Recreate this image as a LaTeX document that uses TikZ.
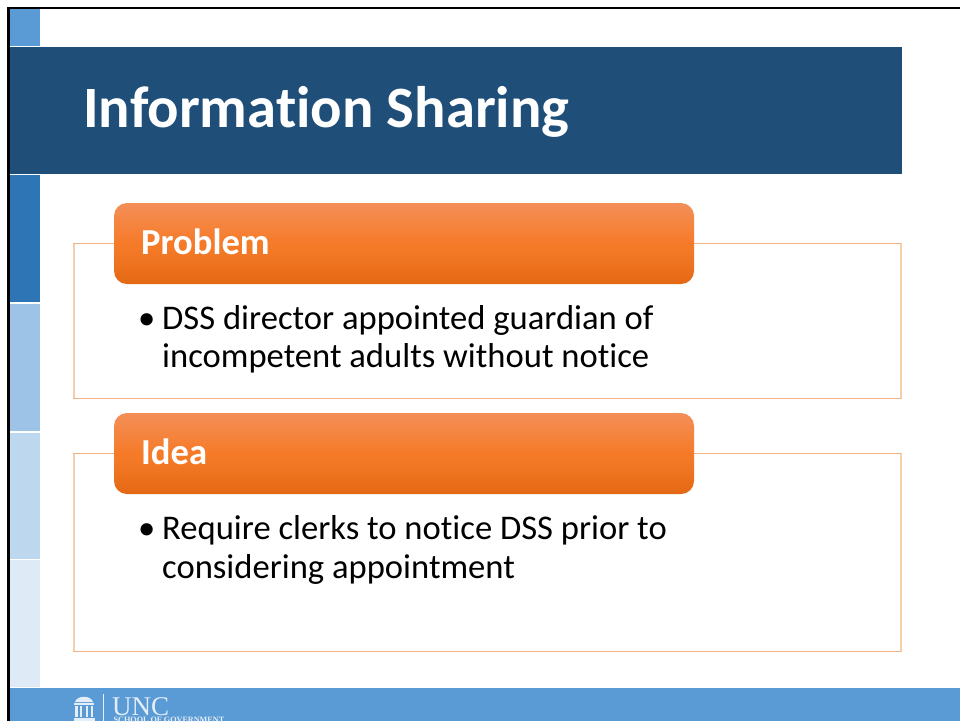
\documentclass[tikz,border=0pt]{standalone}
\usepackage{fontspec}
\setmainfont[RawFeature=-liga]{Carlito}
\newfontfamily\logofont{Liberation Serif}
\definecolor{hdrA}{HTML}{F48F58}
\definecolor{hdrB}{HTML}{F57A28}
\definecolor{hdrC}{HTML}{E46813}
\definecolor{navy}{HTML}{1F4E79}
\definecolor{skyblue}{HTML}{5B9BD5}
\definecolor{stripA}{HTML}{2E75B6}
\definecolor{stripB}{HTML}{9DC3E6}
\definecolor{stripC}{HTML}{BDD7EE}
\definecolor{stripD}{HTML}{DEEBF7}
\definecolor{panelH}{HTML}{F2B283}
\definecolor{panelV}{HTML}{F8CDAA}
\definecolor{logoline}{HTML}{E4EEF8}
\pgfdeclareverticalshading{hdrshade}{100bp}{
 color(0bp)=(hdrC); color(25bp)=(hdrC); color(47bp)=(hdrB); color(50bp)=(hdrB); color(75bp)=(hdrA); color(100bp)=(hdrA)}
\tikzset{
 header/.style={rounded corners=13pt,shading=hdrshade,draw=none},
 headtext/.style={inner sep=0pt,anchor=base west,text=white,font=\fontsize{36.6}{36.6}\selectfont\bfseries},
 bodytext/.style={inner sep=0pt,anchor=base west,text=black,font=\fontsize{34.6}{34.6}\selectfont},
}
\begin{document}
\begin{tikzpicture}[x=1pt,y=-1pt]
\useasboundingbox (0,0) rectangle (960,721);
\clip (0,0) rectangle (960,721);
\fill[white] (0,0) rectangle (960,721);
% slide strips
\fill[skyblue] (9.5,9) rectangle (40,46);
\fill[navy] (9.5,47) rectangle (902,174);
\fill[stripA] (9.5,175) rectangle (40,302);
\fill[stripB] (9.5,304) rectangle (40,431);
\fill[stripC] (9.5,433) rectangle (40,559);
\fill[stripD] (9.5,560) rectangle (40,687);
\fill[skyblue] (9.5,688) rectangle (960,721);
% window edge
\fill[black] (7,7) rectangle (960,9);
\fill[black] (7,7) rectangle (9.5,721);
\node[inner sep=0pt,anchor=base west,text=white,font=\fontsize{58.6}{58.6}\selectfont\bfseries] (title) at (83,127) {Information Sharing};
% panels
\fill[panelV] (72.5,243) rectangle (74.5,399);
\fill[panelV] (900,243) rectangle (902,399);
\fill[panelH] (73,242.6) rectangle (901,244.2);
\fill[panelH] (73,397.8) rectangle (901,399.4);
\fill[panelV] (72.5,453) rectangle (74.5,652);
\fill[panelV] (900,453) rectangle (902,652);
\fill[panelH] (73,452.6) rectangle (901,454.2);
\fill[panelH] (73,650.6) rectangle (901,652.2);
\shade[header] (114,203) rectangle (694,284);
\shade[header] (114,413) rectangle (694,494);
\node[headtext] (prob) at (141,254) {Problem};
\node[headtext] (idea) at (141,464) {Idea};
\node[bodytext] (b1) at (138,329) {•};
\node[bodytext] (l1) at (162,329) {DSS director appointed guardian of};
\node[bodytext] (l2) at (162,367) {incompetent adults without notice};
\node[bodytext] (b2) at (138,539) {•};
\node[bodytext] (l3) at (162,539) {Require clerks to notice DSS prior to};
\node[bodytext] (l4) at (162,578) {considering appointment};
% logo
\begin{scope}[fill=logoline]
\fill (75,702) .. controls (77,695) and (91,695) .. (93,702) -- cycle;
\fill (74,702.8) rectangle (94,705);
\fill (75,706) rectangle (77.5,717);
\fill (80,706) rectangle (82,717);
\fill (86,706) rectangle (88,717);
\fill (90.5,706) rectangle (93,717);
\fill (73.5,717.5) rectangle (94.5,721);
\fill (103.3,694) rectangle (104,721);
\end{scope}
\node[inner sep=0pt,anchor=base west,text=logoline,font=\logofont\fontsize{27}{27}\selectfont] (unc) at (112,715) {UNC};
\node[inner sep=0pt,anchor=base west,text=logoline,font=\logofont\bfseries\fontsize{8.15}{8.15}\selectfont] (sog) at (113.5,722.5) {SCHOOL OF GOVERNMENT};
\end{tikzpicture}
\end{document}
